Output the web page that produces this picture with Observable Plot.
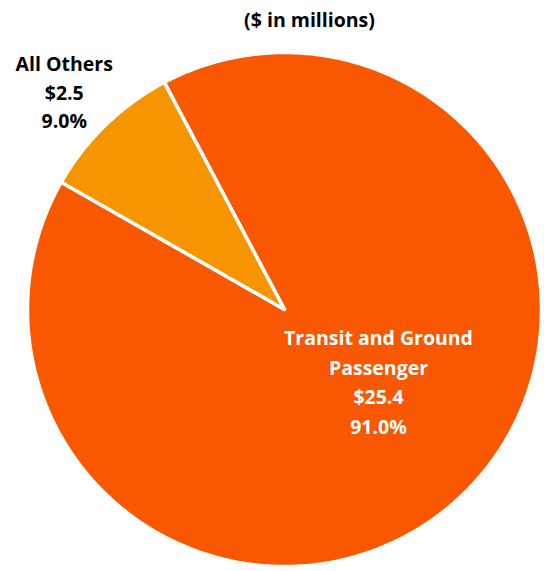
<!DOCTYPE html>
<html>
<head>
<meta charset="utf-8">
<script src="https://cdn.jsdelivr.net/npm/d3@7"></script>
<script src="https://cdn.jsdelivr.net/npm/@observablehq/plot@0.6"></script>
<style>
  html, body { margin: 0; padding: 0; background: #fff; }
  #chart svg { display: block; }
</style>
</head>
<body>
<div id="chart"></div>
<script>
// ---- data ----
const categories = ["Transit and Ground Passenger", "All Others"];
const amounts = [25.4, 2.5];          // $ in millions
const percents = [91.0, 9.0];         // share of total
const labelLines = [["Transit and Ground", "Passenger"], ["All Others"]];
const title = "($ in millions)";

// ---- layout ----
const W = 544, H = 571;
const R = 257;             // pie radius, px
const cx = 284, cy = 309;  // pie centre, px
const firstAngle = -27.9 * Math.PI / 180;
const colors = ["#F95700", "#F79500"];
const FONT = "'Open Sans', Lato, sans-serif";
const FS = 19.5;

const pie = d3.pie().sort(null).value(d => d).startAngle(firstAngle).endAngle(firstAngle + 2 * Math.PI);
const arcs = pie(percents);

// slice outlines in unit coordinates (x = sin θ, y = cos θ; θ clockwise from top)
const slicePts = [];
arcs.forEach((a, i) => {
  slicePts.push({name: categories[i], x: 0, y: 0});
  const n = Math.max(4, Math.ceil((a.endAngle - a.startAngle) / 0.01));
  for (let k = 0; k <= n; k++) {
    const t = a.startAngle + (a.endAngle - a.startAngle) * k / n;
    slicePts.push({name: categories[i], x: Math.sin(t), y: Math.cos(t)});
  }
  slicePts.push({name: categories[i], x: 0, y: 0});
});

// labels
const labelR = [0.464, 1.198];
const labels = arcs.map((a, i) => {
  const m = (a.startAngle + a.endAngle) / 2;
  return {
    name: categories[i],
    x: labelR[i] * Math.sin(m),
    y: labelR[i] * Math.cos(m),
    text: [...labelLines[i], "$" + amounts[i].toFixed(1), percents[i].toFixed(1) + "%"].join("\n")
  };
});

const chart = Plot.plot({
  width: W,
  height: H,
  margin: 0,
  style: {background: "white"},
  x: {domain: [-cx / R, (W - cx) / R], axis: null},
  y: {domain: [-(H - cy) / R, cy / R], axis: null},
  color: {domain: categories, range: colors},
  marks: [
    Plot.line(slicePts, {
      x: "x", y: "y", z: "name", fill: "name",
      stroke: "white", strokeWidth: 3.5, strokeLinejoin: "miter", curve: "linear"
    }),
    Plot.text(labels.filter(d => d.name === categories[0]), {
      x: "x", y: "y", text: "text", fill: "white",
      dx: 11, dy: -15,
      fontSize: FS, fontWeight: "bold", fontFamily: FONT, lineHeight: 29.6 / FS, lineAnchor: "middle"
    }),
    Plot.text(labels.filter(d => d.name === categories[1]), {
      x: "x", y: "y", text: "text", fill: "black",
      dx: -6, dy: 2,
      fontSize: FS, fontWeight: "bold", fontFamily: FONT, lineHeight: 28.5 / FS, lineAnchor: "middle"
    }),
    Plot.text([title], {
      frameAnchor: "top", dx: 37, dy: 20, text: d => d, fill: "black",
      fontSize: FS, fontWeight: "bold", fontFamily: FONT, lineAnchor: "middle"
    })
  ]
});
document.getElementById("chart").appendChild(chart);
</script>
</body>
</html>
